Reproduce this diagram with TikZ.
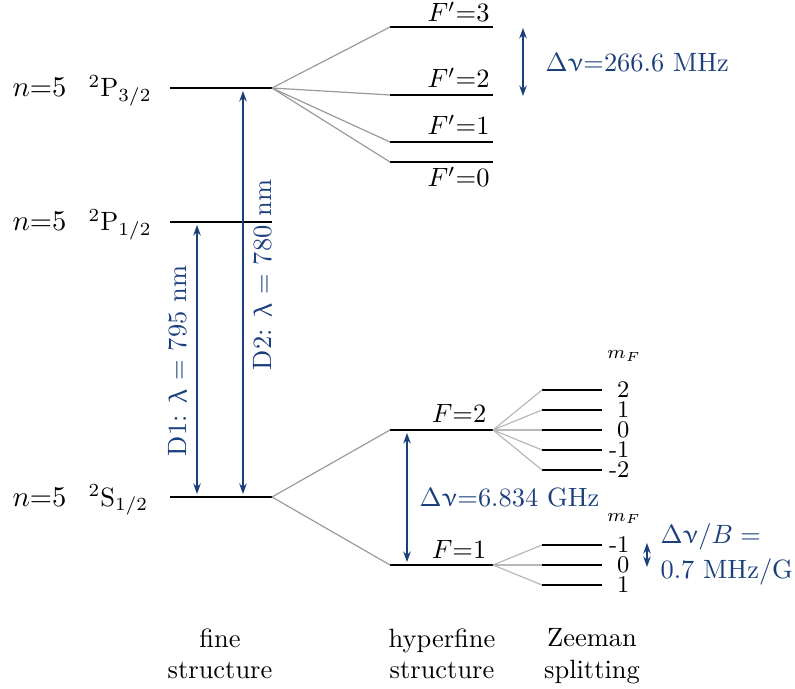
\documentclass[tikz,border=0pt]{standalone}
\usepackage{upgreek}
\usetikzlibrary{arrows.meta}
\definecolor{ink}{HTML}{000000}
\definecolor{blau}{HTML}{1B3F7C}
\definecolor{hfgrau}{HTML}{9A9A9A}
\definecolor{zmgrau}{HTML}{B8B8B8}
% Niveau: Name, x links, x rechts, y -- setzt (Name l) und (Name r)
\newcommand\niveau[4]{\coordinate (#1l) at (#2,#4); \coordinate (#1r) at (#3,#4);
  \draw[niveaulinie] (#1l) -- (#1r);}
\newcommand\fname[4][base east]{\node[anchor=#1,inner sep=0] (#2) at (490,#3) {#4};}

\begin{document}
\begin{tikzpicture}[x=0.378pt,y=-0.378pt]
\useasboundingbox (0,0) rectangle (795,689);
\tikzset{niveaulinie/.style={ink,line width=0.8pt},
  hfast/.style={hfgrau,line width=0.45pt},
  zmast/.style={zmgrau,line width=0.45pt},
  pfeil/.style={blau,line width=0.5pt,
    {Stealth[length=1.4mm,width=1mm]}-{Stealth[length=1.4mm,width=1mm]}},
  wert/.style={text=blau,inner sep=0}}

% ---- Feinstruktur ------------------------------------------------------------
\niveau{p32}{170}{272}{88}
\niveau{p12}{170}{272}{222}
\niveau{s12}{170}{272}{497}
\foreach \y/\n/\t in {88/p32/P$_{3/2}$,222/p12/P$_{1/2}$,497/s12/S$_{1/2}$} {
  \node[anchor=base west,inner sep=0,font=\fontsize{10.8}{13}\selectfont] (n\n) at (12,\y+9) {$n$=5};
  \node[anchor=base west,inner sep=0] (t\n) at (88,\y+9) {$^2$\t};}

% ---- Hyperfeinstruktur -------------------------------------------------------
\niveau{f3}{390}{493}{27}
\niveau{f2}{390}{493}{95}
\niveau{f1}{390}{493}{142}
\niveau{f0}{390}{493}{162}
\niveau{g2}{390}{493}{430}
\niveau{g1}{390}{493}{565}
\foreach \z in {f3,f2,f1,f0} {\draw[hfast] (p32r) -- (\z l);}
\foreach \z in {g2,g1} {\draw[hfast] (s12r) -- (\z l);}
\fname{lf3}{22}{$F'$=3}
\fname{lf2}{88}{$F'$=2}
\fname{lf1}{135}{$F'$=1}
\fname{lf0}{187}{$F'$=0}
\node[anchor=base,inner sep=0] (lg2) at (459,423) {$F$=2};
\node[anchor=base,inner sep=0] (lg1) at (459,558) {$F$=1};

% ---- Zeeman-Aufspaltung ------------------------------------------------------
\foreach \m/\y [count=\i] in {2/390,1/410,0/430,-1/450,-2/470} {
  \niveau{za\i}{542}{602}{\y}
  \draw[zmast] (g2r) -- (za\i l);
  \node[anchor=east,inner sep=0,font=\small] (ma\i) at (630,\y) {\m};}
\foreach \m/\y [count=\i] in {-1/545,0/565,1/585} {
  \niveau{zb\i}{542}{602}{\y}
  \draw[zmast] (g1r) -- (zb\i l);
  \node[anchor=east,inner sep=0,font=\small] (mb\i) at (630,\y) {\m};}
\node[anchor=base,inner sep=0,font=\scriptsize] (mfa) at (624,359) {$m_F$};
\node[anchor=base,inner sep=0,font=\scriptsize] (mfb) at (624,521) {$m_F$};

% ---- Übergänge und Abstände --------------------------------------------------
\coordinate (d1o) at (197,225); \coordinate (d1u) at (197,494);
\coordinate (d2o) at (243,91);  \coordinate (d2u) at (243,494);
\draw[pfeil] (d1o) -- (d1u);
\draw[pfeil] (d2o) -- (d2u);
\node[wert,rotate=90] (ld1) at (178,361) {D1: $\uplambda$ = 795 nm};
\node[wert,rotate=90] (ld2) at (263,275) {D2: $\uplambda$ = 780 nm};
\coordinate (ao) at (523,28);  \coordinate (au) at (523,96);
\coordinate (bo) at (407,433); \coordinate (bu) at (407,562);
\coordinate (co) at (647,543); \coordinate (cu) at (647,567);
\draw[pfeil] (ao) -- (au);
\draw[pfeil] (bo) -- (bu);
\draw[pfeil] (co) -- (cu);
\node[wert,anchor=base west] (la) at (545,72) {$\Delta\upnu$=266.6 MHz};
\node[wert,anchor=base west] (lb) at (419,506) {$\Delta\upnu$=6.834 GHz};
\node[wert,anchor=base west] (lc1) at (660,543) {$\Delta\upnu/B =$};
\node[wert,anchor=base west] (lc2) at (660,578) {0.7 MHz/G};

% ---- Spaltenköpfe unten ------------------------------------------------------
\node[anchor=north,align=center,inner sep=0] (kfein) at (220,628) {fine\\structure};
\node[anchor=north,align=center,inner sep=0] (khyp) at (442,628) {hyperfine\\structure};
\node[anchor=north,align=center,inner sep=0] (kzee) at (592,628) {Zeeman\\splitting};
\end{tikzpicture}
\end{document}
